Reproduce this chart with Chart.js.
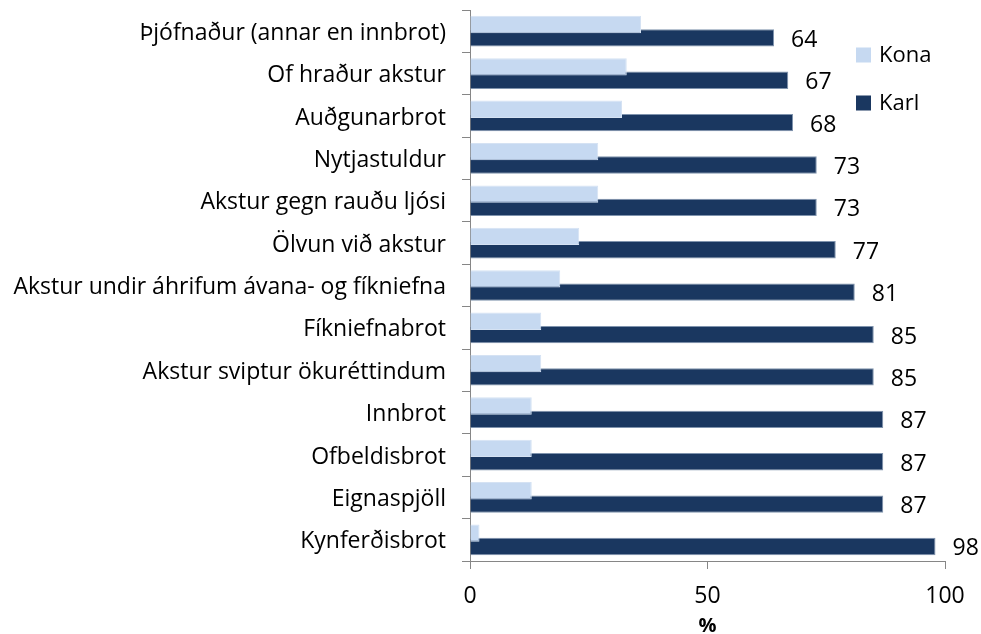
<!DOCTYPE html>
<html>
<head>
<meta charset="utf-8">
<script src="https://cdn.jsdelivr.net/npm/chart.js@4.4.1/dist/chart.umd.min.js"></script>
<style>
  html, body { margin: 0; padding: 0; background: #fff; }
  #wrap { width: 981px; height: 634px; }
</style>
</head>
<body>
<div id="wrap"><canvas id="chart"></canvas></div>
<script>
// categories top to bottom
const categories = [
  'Þjófnaður (annar en innbrot)',
  'Of hraður akstur',
  'Auðgunarbrot',
  'Nytjastuldur',
  'Akstur gegn rauðu ljósi',
  'Ölvun við akstur',
  'Akstur undir áhrifum ávana- og fíkniefna',
  'Fíkniefnabrot',
  'Akstur sviptur ökuréttindum',
  'Innbrot',
  'Ofbeldisbrot',
  'Eignaspjöll',
  'Kynferðisbrot'
];
const konaValues = [36, 33, 32, 27, 27, 23, 19, 15, 15, 13, 13, 13, 2];
const karlValues = [64, 67, 68, 73, 73, 77, 81, 85, 85, 87, 87, 87, 98];
const xTicks = [0, 50, 100];

const FONT = 'Open Sans';
const KONA = '#C6D9F1';
const KARL = '#1A3760';

// value labels for the Karl bars, just past the bar end
const karlLabels = {
  id: 'karlLabels',
  afterDatasetsDraw(chart) {
    const ctx = chart.ctx;
    const meta = chart.getDatasetMeta(1);
    ctx.save();
    ctx.font = '23px "' + FONT + '"';
    ctx.fillStyle = '#000';
    ctx.textAlign = 'left';
    ctx.textBaseline = 'alphabetic';
    meta.data.forEach((bar, i) => {
      ctx.fillText(String(karlValues[i]), bar.x + 17, bar.y + 9);
    });
    ctx.restore();
  }
};

// legend sits inside the plot, top right
const insideLegend = {
  id: 'insideLegend',
  afterDraw(chart) {
    const ctx = chart.ctx;
    ctx.save();
    ctx.font = '22px "' + FONT + '"';
    ctx.textBaseline = 'alphabetic';
    chart.data.datasets.forEach((ds, i) => {
      const y = 54.5 + i * 48;
      ctx.fillStyle = ds.backgroundColor;
      ctx.fillRect(856, y - 7, 15, 15);
      ctx.fillStyle = '#000';
      ctx.fillText(ds.label, 879, y + 7.5);
    });
    ctx.restore();
  }
};

new Chart(document.getElementById('chart'), {
  type: 'bar',
  data: {
    labels: categories,
    datasets: [
      {
        label: 'Kona',
        data: konaValues,
        backgroundColor: KONA,
        borderColor: '#d5e2f3',
        borderWidth: 1,
        categoryPercentage: 0.63,
        barPercentage: 1.3
      },
      {
        label: 'Karl',
        data: karlValues,
        backgroundColor: KARL,
        borderColor: '#7f93ad',
        borderWidth: 1,
        categoryPercentage: 0.63,
        barPercentage: 1.3
      }
    ]
  },
  options: {
    indexAxis: 'y',
    responsive: true,
    maintainAspectRatio: false,
    animation: false,
    layout: { padding: { top: 10, right: 36, bottom: 0, left: 0 } },
    plugins: {
      legend: { display: false },
      tooltip: { enabled: false }
    },
    scales: {
      x: {
        min: 0,
        max: 100,
        afterBuildTicks: (scale) => { scale.ticks = xTicks.map(v => ({ value: v })); },
        afterFit: (scale) => {
          scale.height = 73;
          scale.paddingLeft = 0;
          scale.paddingRight = 0;
        },
        grid: {
          drawOnChartArea: false,
          drawTicks: true,
          tickLength: 8,
          color: '#868686'
        },
        border: { display: true, color: '#868686' },
        ticks: {
          color: '#000',
          padding: 14,
          font: { family: FONT, size: 23 }
        },
        title: {
          display: true,
          text: '%',
          color: '#000',
          padding: 0,
          font: { family: FONT, size: 20, weight: 'bold', lineHeight: 0.8 }
        }
      },
      y: {
        afterFit: (scale) => {
          scale.width = 470;
          scale.paddingTop = 0;
          scale.paddingBottom = 0;
        },
        grid: {
          offset: true,
          drawOnChartArea: false,
          drawTicks: true,
          tickLength: 8,
          color: '#868686'
        },
        border: { display: true, color: '#868686' },
        ticks: {
          color: '#000',
          padding: 16,
          labelOffset: 2,
          autoSkip: false,
          font: { family: FONT, size: 23 }
        }
      }
    }
  },
  plugins: [karlLabels, insideLegend]
});
</script>
</body>
</html>
